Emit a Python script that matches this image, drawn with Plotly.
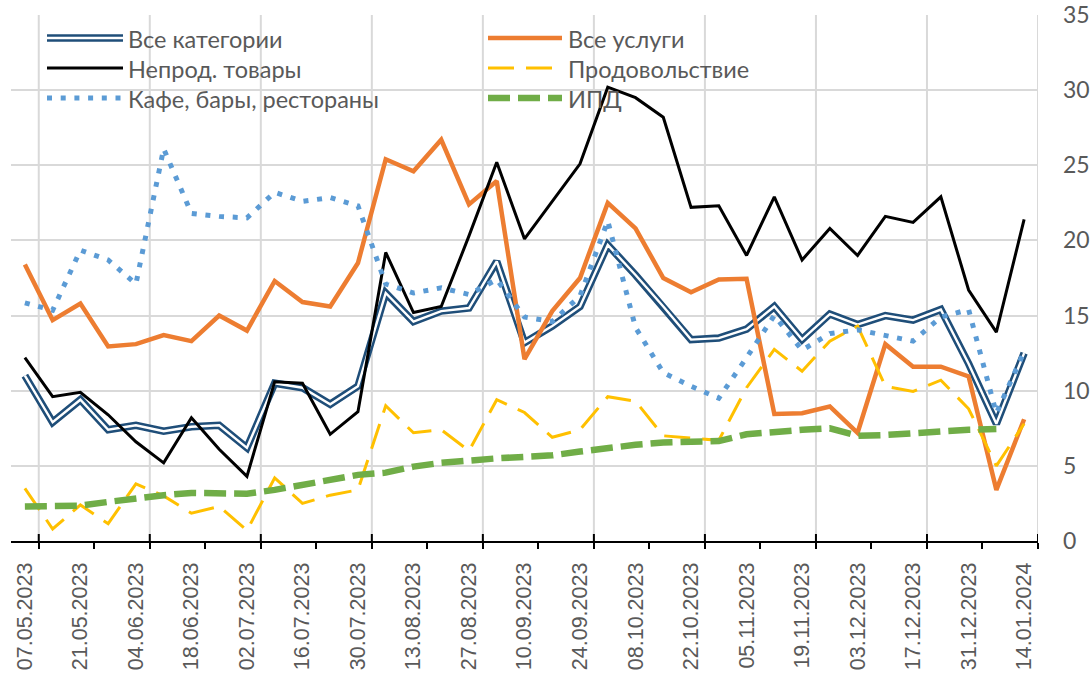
import plotly.graph_objects as go

# ---------------- data ----------------
dates = ["07.05.2023", "14.05.2023", "21.05.2023", "28.05.2023", "04.06.2023", "11.06.2023",
         "18.06.2023", "25.06.2023", "02.07.2023", "09.07.2023", "16.07.2023", "23.07.2023",
         "30.07.2023", "06.08.2023", "13.08.2023", "20.08.2023", "27.08.2023", "03.09.2023",
         "10.09.2023", "17.09.2023", "24.09.2023", "01.10.2023", "08.10.2023", "15.10.2023",
         "22.10.2023", "29.10.2023", "05.11.2023", "12.11.2023", "19.11.2023", "26.11.2023",
         "03.12.2023", "10.12.2023", "17.12.2023", "24.12.2023", "31.12.2023", "07.01.2024",
         "14.01.2024"]

all_categories = [11.0, 7.9, 9.4, 7.4, 7.7, 7.3, 7.6, 7.7, 6.2, 10.5, 10.2, 9.1, 10.3,
                  16.5, 14.6, 15.3, 15.5, 18.6, 13.2, 14.3, 15.6, 19.7, 17.7, 15.6, 13.4,
                  13.5, 14.1, 15.6, 13.4, 15.1, 14.4, 15.0, 14.7, 15.4, 11.8, 7.8, 12.5]

services = [18.4, 14.7, 15.8, 12.95, 13.1, 13.7, 13.3, 15.0, 14.0, 17.3, 15.9, 15.6, 18.5,
            25.4, 24.6, 26.7, 22.4, 23.95, 12.1, 15.3, 17.5, 22.5, 20.8, 17.5, 16.55,
            17.4, 17.45, 8.45, 8.5, 8.95, 7.2, 13.1, 11.6, 11.6, 10.95, 3.4, 8.1]

nonfood = [12.2, 9.6, 9.9, 8.4, 6.6, 5.2, 8.2, 6.1, 4.3, 10.6, 10.5, 7.1, 8.6,
           19.2, 15.2, 15.6, 20.3, 25.2, 20.1, 22.6, 25.1, 30.2, 29.5, 28.2, 22.2,
           22.3, 19.0, 22.9, 18.7, 20.8, 19.0, 21.6, 21.2, 22.9, 16.7, 13.9, 21.4]

food = [3.5, 0.8, 2.4, 1.15, 3.8, 3.0, 1.85, 2.3, 0.7, 4.2, 2.5, 3.05, 3.4,
        9.0, 7.2, 7.4, 6.0, 9.4, 8.55, 6.9, 7.4, 9.6, 9.3, 7.0, 6.85,
        6.7, 10.2, 12.75, 11.3, 13.3, 14.3, 10.3, 9.95, 10.7, 8.8, 5.0, 7.8]

cafes = [15.85, 15.35, 19.35, 18.7, 17.1, 26.1, 21.8, 21.6, 21.5, 23.2, 22.6, 22.85, 22.3,
         17.1, 16.5, 16.85, 16.4, 17.4, 14.9, 14.6, 16.3, 21.3, 14.2, 11.2, 10.3,
         9.5, 12.2, 15.0, 12.7, 13.8, 14.05, 13.7, 13.3, 14.9, 15.4, 8.5, 12.6]

ipd = [2.3, 2.3, 2.35, 2.6, 2.85, 3.05, 3.2, 3.2, 3.15, 3.4, 3.7, 4.1, 4.4,
       4.55, 4.95, 5.2, 5.4, 5.5, 5.6, 5.7, 5.95, 6.2, 6.4, 6.55, 6.6,
       6.65, 7.1, 7.3, 7.4, 7.5, 7.0, 7.05, 7.2, 7.3, 7.4, 7.45, None]

names = ["Все категории", "Все услуги", "Непрод. товары", "Продовольствие",
         "Кафе, бары, рестораны", "ИПД"]

y_ticks = [0, 5, 10, 15, 20, 25, 30, 35]

# ---------------- styles ----------------
C_BLUE = "#1F4E79"
C_ORANGE = "#ED7D31"
C_BLACK = "#000000"
C_YELLOW = "#FFC000"
C_LBLUE = "#5B9BD5"
C_GREEN = "#70AD47"
TXT = "#595959"
GRID = "#D9D9D9"

W, H = 1092, 674
ML, MR, MT, MB = 11, 54, 15, 133
PW, PH = W - ML - MR, H - MT - MB


def fx(p):
    return (p - ML) / PW


def fy(p):
    return (H - MB - p) / PH


n = len(dates)
xs = list(range(n))  # category positions
label_pos = xs[::2]
label_text = dates[::2]
bounds_all = [0.5 + 2 * k for k in range(n // 2 + 1)]
bounds_major = bounds_all[::2]

ST_BLUE = dict(color=C_BLUE, width=7.5)
ST_BLUE_IN = dict(color="white", width=2.4)
ST_ORANGE = dict(color=C_ORANGE, width=4.5)
ST_BLACK = dict(color=C_BLACK, width=3)
ST_YELLOW = dict(color=C_YELLOW, width=3, dash="26px,12px")
ST_LBLUE = dict(color=C_LBLUE, width=5, dash="5px,8.7px")
ST_GREEN = dict(color=C_GREEN, width=6.5, dash="22px,8px")

hov = "%{customdata}: %{y}<extra>%{fullData.name}</extra>"

fig = go.Figure()
fig.add_trace(go.Scatter(x=xs, y=all_categories, customdata=dates, mode="lines",
                         name=names[0], line=ST_BLUE, hovertemplate=hov))
fig.add_trace(go.Scatter(x=xs, y=all_categories, mode="lines", name=names[0],
                         line=ST_BLUE_IN, hoverinfo="skip"))
fig.add_trace(go.Scatter(x=xs, y=services, customdata=dates, mode="lines", name=names[1],
                         line=ST_ORANGE, hovertemplate=hov))
fig.add_trace(go.Scatter(x=xs, y=nonfood, customdata=dates, mode="lines", name=names[2],
                         line=ST_BLACK, hovertemplate=hov))
fig.add_trace(go.Scatter(x=xs, y=food, customdata=dates, mode="lines", name=names[3],
                         line=ST_YELLOW, hovertemplate=hov))
fig.add_trace(go.Scatter(x=xs, y=cafes, customdata=dates, mode="lines", name=names[4],
                         line=ST_LBLUE, hovertemplate=hov))
fig.add_trace(go.Scatter(x=xs, y=ipd, customdata=dates, mode="lines", name=names[5],
                         line=ST_GREEN, hovertemplate=hov))

shapes = []
annotations = []

# vertical gridlines every four weeks (on category boundaries) + crossing part of major ticks
for b in bounds_major:
    shapes.append(dict(type="line", xref="x", yref="y", layer="below",
                       x0=b, x1=b, y0=0, y1=35, line=dict(color=GRID, width=2)))
    shapes.append(dict(type="line", xref="x", yref="y", layer="above", ysizemode="pixel",
                       yanchor=0, x0=b, x1=b, y0=0, y1=7, line=dict(color="black", width=2)))

# ---------------- manual legend ----------------
rows = [38, 68, 98]
cols = [(47, 123, 129), (488, 562, 569)]
entries = [
    (0, 0, [ST_BLUE, ST_BLUE_IN]),
    (1, 0, [ST_ORANGE]),
    (0, 1, [ST_BLACK]),
    (1, 1, [ST_YELLOW]),
    (0, 2, [ST_LBLUE]),
    (1, 2, [ST_GREEN]),
]
for i, (c, r, lines) in enumerate(entries):
    x0, x1, xt = cols[c]
    yy = rows[r]
    for ln in lines:
        shapes.append(dict(type="line", xref="paper", yref="paper", layer="above",
                           x0=fx(x0), x1=fx(x1), y0=fy(yy), y1=fy(yy), line=ln))
    annotations.append(dict(text=names[i], xref="paper", yref="paper", x=fx(xt - 3),
                            y=fy(yy + 1), xanchor="left", yanchor="middle", showarrow=False,
                            font=dict(family="Lato", size=23.5, color=TXT)))

fig.update_layout(
    width=W, height=H,
    margin=dict(l=ML, r=MR, t=MT, b=MB, pad=0, autoexpand=False),
    paper_bgcolor="white", plot_bgcolor="white",
    showlegend=False,
    shapes=shapes, annotations=annotations,
    xaxis=dict(range=[-0.5, n - 0.5], tickmode="array",
               tickvals=label_pos, ticktext=label_text, tickangle=-90,
               tickfont=dict(family="Liberation Sans", size=21.5, color=TXT),
               showgrid=False, zeroline=False, showline=True, linecolor="black",
               linewidth=2, ticks="", ticklabelstandoff=11, automargin=False,
               ticklabeloverflow="allow",
               minor=dict(tickmode="array", tickvals=bounds_all, ticks="outside",
                          ticklen=6, tickwidth=2, tickcolor="black", showgrid=False)),
    yaxis=dict(side="right", range=[0, 35], tickmode="array", tickvals=y_ticks,
               showgrid=True, gridcolor=GRID, gridwidth=2, zeroline=False, showline=False,
               ticks="", ticklabelstandoff=24, automargin=False, ticklabeloverflow="allow",
               tickfont=dict(family="Lato", size=23, color=TXT)),
)

fig.write_html("out.html", config={"displayModeBar": False},
               post_script="document.body.style.margin='0';")
